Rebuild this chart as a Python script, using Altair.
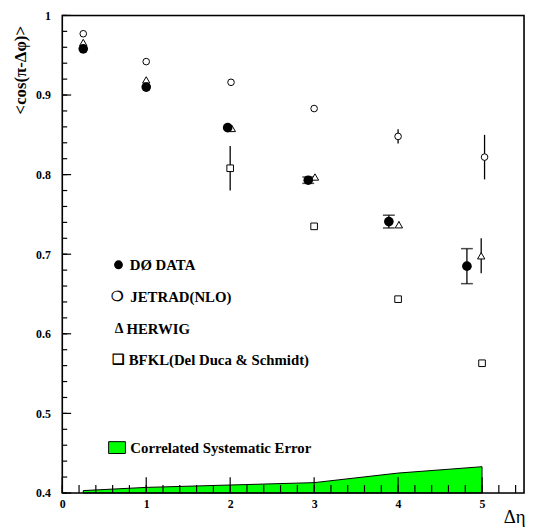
import altair as alt
import pandas as pd

# ---- data ----
eta_d0 = [0.25, 1.0, 1.97, 2.93, 3.89, 4.82]
cos_d0 = [0.958, 0.910, 0.859, 0.793, 0.741, 0.685]
err_d0 = [0.0, 0.0, 0.0, 0.004, 0.008, 0.022]

eta_jet = [0.25, 1.0, 2.01, 3.0, 4.0, 5.03]
cos_jet = [0.977, 0.942, 0.916, 0.883, 0.848, 0.822]
err_jet = [0.0, 0.0, 0.0, 0.0, 0.009, 0.028]

eta_her = [0.25, 1.0, 2.02, 3.01, 4.01, 4.99]
cos_her = [0.966, 0.919, 0.858, 0.797, 0.737, 0.698]
err_her = [0.0, 0.0, 0.0, 0.0, 0.004, 0.022]

eta_bfkl = [2.0, 3.0, 4.0, 5.0]
cos_bfkl = [0.808, 0.735, 0.6435, 0.563]
err_bfkl = [0.028, 0.0, 0.0, 0.0]

eta_sys = [0.25, 1.0, 2.0, 3.0, 4.0, 5.0]
sys_top = [0.403, 0.407, 0.410, 0.413, 0.425, 0.433]

x_labels = [0, 1, 2, 3, 4, 5]
y_labels = [0.4, 0.5, 0.6, 0.7, 0.8, 0.9, 1.0]

legend_labels = ["DØ DATA", "JETRAD(NLO)", "HERWIG", "BFKL(Del Duca & Schmidt)"]
legend_glyphs = ["", "❍", "Δ", "❑"]
sys_label = "Correlated Systematic Error"


def frame(eta, v, err):
    return pd.DataFrame({"eta": eta, "v": v, "err": err,
                         "lo": [a - e for a, e in zip(v, err)],
                         "hi": [a + e for a, e in zip(v, err)]})


d0 = frame(eta_d0, cos_d0, err_d0)
jet = frame(eta_jet, cos_jet, err_jet)
her = frame(eta_her, cos_her, err_her)
bfkl = frame(eta_bfkl, cos_bfkl, err_bfkl)
sysdf = pd.DataFrame({"eta": eta_sys, "v": sys_top})

W, H = 468, 484
FONT = "Liberation Serif, Tinos, Times New Roman, Times, serif"

xs = alt.Scale(domain=[0, 5.5], nice=False, zero=False)
ys = alt.Scale(domain=[0.4, 1.0], nice=False, zero=False)

xax = alt.Axis(values=x_labels, format="d", grid=False, domain=False, ticks=False,
               tickSize=0, labelPadding=6, labelFont=FONT, labelFontWeight="bold",
               labelFontSize=12, labelColor="black", labelFlush=False,
               title="Δη", titleFont=FONT, titleFontWeight="normal", titleFontSize=19,
               titleColor="black", titleAlign="right", titleBaseline="alphabetic",
               titleX=W + 1, titleY=29.5)
yax = alt.Axis(values=y_labels, grid=False, domain=False, ticks=False, tickSize=0,
               labelExpr="datum.value == 1 ? '1' : format(datum.value, '.1f')",
               labelPadding=12, labelFont=FONT, labelFontWeight="bold",
               labelFontSize=12, labelColor="black", labelFlush=False,
               title="<cos(π-Δφ)>", titleFont=FONT, titleFontWeight="bold",
               titleFontSize=17, titleColor="black", titleAngle=270,
               titleAlign="center", titleBaseline="middle", titleX=-42, titleY=55)

X = lambda f="eta": alt.X(f + ":Q", scale=xs, axis=xax)
Y = lambda f="v": alt.Y(f + ":Q", scale=ys, axis=yax)

# systematic band
band = alt.Chart(sysdf).mark_area(fill="#00ff00", stroke="black", strokeWidth=1,
                                  opacity=1).encode(x=X(), y=Y(), y2=alt.datum(0.4))

# axis ticks drawn inward
xmaj = pd.DataFrame({"eta": x_labels})
xmin = pd.DataFrame({"eta": [round(0.2 * i, 2) for i in range(28)]})
ymaj = pd.DataFrame({"v": y_labels})
ymin = pd.DataFrame({"v": [round(0.4 + 0.02 * i, 2) for i in range(31)]})
tk = dict(color="black", strokeWidth=1.2)
xmaj_r = alt.Chart(xmaj).mark_rule(**tk).encode(x=X(), y=alt.value(H), y2=alt.value(H - 16))
xmin_r = alt.Chart(xmin).mark_rule(**tk).encode(x=X(), y=alt.value(H), y2=alt.value(H - 8))
ymaj_r = alt.Chart(ymaj).mark_rule(**tk).encode(y=Y(), x=alt.value(0), x2=alt.value(9))
ymin_r = alt.Chart(ymin).mark_rule(**tk).encode(y=Y(), x=alt.value(0), x2=alt.value(5))


def ebar(df):
    return alt.Chart(df).transform_filter("datum.err > 0").mark_rule(
        color="black", strokeWidth=1.3).encode(x=X(), y=Y("lo"), y2="hi")


d0_caps = [alt.Chart(d0).transform_filter("datum.err > 0").mark_tick(
    color="black", orient="horizontal", size=12, thickness=1.5).encode(x=X(), y=Y(f))
    for f in ("lo", "hi")]

pt_bfkl = alt.Chart(bfkl).mark_point(shape="square", size=45, fill="white", fillOpacity=1,
                                     stroke="black", strokeWidth=1, opacity=1
                                     ).encode(x=X(), y=Y())
pt_her = alt.Chart(her).mark_point(shape="triangle-up", size=55, fill="white", fillOpacity=1,
                                   stroke="black", strokeWidth=1, opacity=1
                                   ).encode(x=X(), y=Y())
pt_jet = alt.Chart(jet).mark_point(shape="circle", size=45, fill="white", fillOpacity=1,
                                   stroke="black", strokeWidth=1, opacity=1
                                   ).encode(x=X(), y=Y())
pt_d0 = alt.Chart(d0).mark_point(shape="circle", size=95, filled=True, color="black",
                                 opacity=1).encode(x=X(), y=Y())

# legend annotations (pixel positions inside the plot area)
leg_y = [252.7, 285.7, 317.7, 349.7]
leg_x = [68.4, 69.0, 65.0, 67.4]
sym_x = [57.0, 55.7, 57.6, 56.7]
leg_layers = []
for lab, g, yy, lx, sx in zip(legend_labels, legend_glyphs, leg_y, leg_x, sym_x):
    leg_layers.append(alt.Chart(pd.DataFrame({"t": [lab]})).mark_text(
        font=FONT, fontWeight="bold", fontSize=15, align="left", baseline="middle",
        color="black").encode(x=alt.value(lx), y=alt.value(yy), text="t:N"))
    if g:
        leg_layers.append(alt.Chart(pd.DataFrame({"t": [g]})).mark_text(
            font=FONT, fontWeight="bold", fontSize=14, align="center", baseline="middle",
            color="black").encode(x=alt.value(sx), y=alt.value(yy), text="t:N"))
leg_dot = alt.Chart(pd.DataFrame({"t": [legend_labels[0]]})).mark_point(
    shape="circle", size=80, filled=True, color="black", opacity=1).encode(
    x=alt.value(sym_x[0]), y=alt.value(leg_y[0]))

sys_box = alt.Chart(pd.DataFrame({"t": [sys_label]})).mark_rect(
    fill="#00ff00", stroke="black", strokeWidth=1).encode(
    x=alt.value(47), x2=alt.value(64), y=alt.value(432), y2=alt.value(444))
sys_txt = alt.Chart(pd.DataFrame({"t": [sys_label]})).mark_text(
    font=FONT, fontWeight="bold", fontSize=15, align="left", baseline="middle",
    color="black").encode(x=alt.value(69), y=alt.value(438), text="t:N")

box = alt.Chart(pd.DataFrame({"t": ["frame"]})).mark_rect(
    fill=None, fillOpacity=0, stroke="black", strokeWidth=1.6).encode(
    x=alt.value(0), x2=alt.value(W), y=alt.value(0), y2=alt.value(H))

chart = alt.layer(
    band, xmaj_r, xmin_r, ymaj_r, ymin_r,
    ebar(bfkl), ebar(her), ebar(jet), ebar(d0), *d0_caps,
    pt_bfkl, pt_her, pt_jet, pt_d0,
    *leg_layers, leg_dot, sys_box, sys_txt, box,
).properties(
    width=W, height=H,
    autosize=alt.AutoSizeParams(type="none"),
    padding={"left": 55, "top": 4, "right": 1, "bottom": 35},
).configure_view(stroke=None).configure(background="white")

chart.save("out.html", embed_options={"renderer": "svg", "actions": False})
